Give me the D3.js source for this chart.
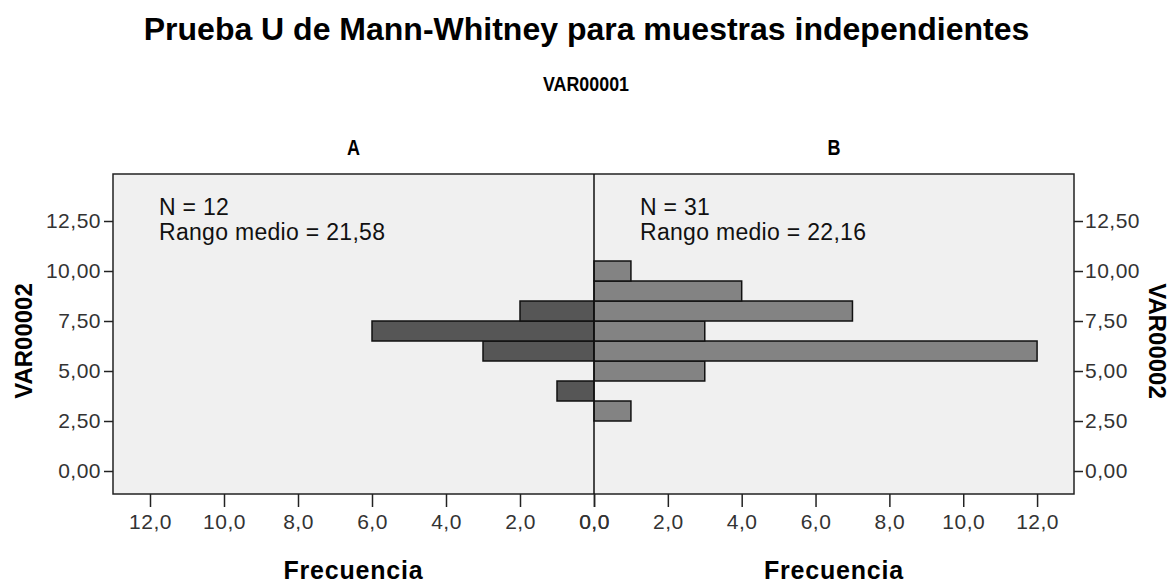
<!DOCTYPE html>
<html><head><meta charset="utf-8">
<script src="https://cdn.jsdelivr.net/npm/d3@7"></script>
<style>
html,body{margin:0;padding:0;background:#fff;}
text{font-family:"Liberation Sans",Arial,sans-serif;}
</style></head>
<body>
<svg id="chart" width="1172" height="586"></svg>
<script>
// ---- data ----
const groups = ["A", "B"];
const groupN = [12, 31];
const groupMeanRank = ["21,58", "22,16"];
const binCenters = [3, 4, 5, 6, 7, 8, 9, 10];
const countsA = [0, 1, 0, 3, 6, 2, 0, 0];
const countsB = [1, 0, 3, 12, 3, 7, 4, 1];
const yTicks = [0, 2.5, 5, 7.5, 10, 12.5];
const xTicks = [0, 2, 4, 6, 8, 10, 12];
const title = "Prueba U de Mann-Whitney para muestras independientes";
const subtitle = "VAR00001";
const yTitle = "VAR00002";
const xTitle = "Frecuencia";

// ---- layout ----
const svg = d3.select("#chart");
const L = 113, C = 594, R = 1074, T = 174, B = 494;
const binWidth = 1;

const y = d3.scaleLinear().domain([-1.15, 14.85]).range([B, T]);
const xA = d3.scaleLinear().domain([13, 0]).range([L, C]);
const xB = d3.scaleLinear().domain([0, 13]).range([C, R]);

const fmtY = v => d3.format(".2f")(v).replace(".", ",");
const fmtX = v => d3.format(".1f")(v).replace(".", ",");

// titles
svg.append("text").attr("x", 586.5).attr("y", 40).attr("text-anchor", "middle")
  .style("font-size", "32px").style("font-weight", "bold").attr("fill", "#000").text(title);
svg.append("text").attr("x", 586).attr("y", 91).attr("text-anchor", "middle")
  .style("font-size", "21px").style("font-weight", "bold").attr("fill", "#000")
  .attr("textLength", 86).attr("lengthAdjust", "spacingAndGlyphs").text(subtitle);

// plot background
svg.append("rect").attr("x", L).attr("y", T).attr("width", R - L).attr("height", B - T)
  .attr("fill", "#f0f0f0");

// bars
const dataA = binCenters.map((c, i) => ({c, n: countsA[i]})).filter(d => d.n > 0);
const dataB = binCenters.map((c, i) => ({c, n: countsB[i]})).filter(d => d.n > 0);

svg.append("g").selectAll("rect").data(dataA).join("rect")
  .attr("x", d => xA(d.n)).attr("width", d => xA(0) - xA(d.n))
  .attr("y", d => y(d.c + binWidth / 2)).attr("height", d => y(d.c - binWidth / 2) - y(d.c + binWidth / 2))
  .attr("fill", "#565656").attr("stroke", "#111").attr("stroke-width", 1.5);

svg.append("g").selectAll("rect").data(dataB).join("rect")
  .attr("x", d => xB(0)).attr("width", d => xB(d.n) - xB(0))
  .attr("y", d => y(d.c + binWidth / 2)).attr("height", d => y(d.c - binWidth / 2) - y(d.c + binWidth / 2))
  .attr("fill", "#838383").attr("stroke", "#111").attr("stroke-width", 1.5);

// frame
svg.append("rect").attr("x", L).attr("y", T).attr("width", R - L).attr("height", B - T)
  .attr("fill", "none").attr("stroke", "#222").attr("stroke-width", 1.5);
svg.append("line").attr("x1", C).attr("x2", C).attr("y1", T).attr("y2", B)
  .attr("stroke", "#111").attr("stroke-width", 1.5);

// axes
function styleAxis(g) {
  g.select(".domain").remove();
  g.selectAll(".tick line").attr("stroke", "#222").attr("stroke-width", 1.5);
  g.selectAll(".tick text").attr("fill", "#333").style("font-size", "21px")
    .style("font-family", "'Liberation Sans', Arial, sans-serif").style("letter-spacing", "0.5px");
}
svg.append("g").attr("transform", `translate(${L},0)`)
  .call(d3.axisLeft(y).tickValues(yTicks).tickFormat(fmtY).tickSize(9).tickPadding(3))
  .call(styleAxis);
svg.append("g").attr("transform", `translate(${R},0)`)
  .call(d3.axisRight(y).tickValues(yTicks).tickFormat(fmtY).tickSize(9).tickPadding(2))
  .call(styleAxis);
svg.append("g").attr("transform", `translate(0,${B})`)
  .call(d3.axisBottom(xA).tickValues(xTicks).tickFormat(fmtX).tickSize(13).tickPadding(7))
  .call(styleAxis);
svg.append("g").attr("transform", `translate(0,${B})`)
  .call(d3.axisBottom(xB).tickValues(xTicks).tickFormat(fmtX).tickSize(13).tickPadding(7))
  .call(styleAxis);

// group labels & annotations
const panels = [{x: xA, l: L, r: C}, {x: xB, l: C, r: R}];
panels.forEach((p, i) => {
  const cx = (p.l + p.r) / 2;
  svg.append("text").attr("x", cx).attr("y", 155).attr("text-anchor", "middle")
    .style("font-size", "22px").style("font-weight", "bold").attr("fill", "#000")
    .attr("textLength", 13).attr("lengthAdjust", "spacingAndGlyphs").text(groups[i]);
  const t = svg.append("text").attr("x", p.l + 46).attr("y", 215)
    .style("font-size", "23px").attr("fill", "#111").style("letter-spacing", "0.3px");
  t.append("tspan").attr("x", p.l + 46).attr("y", 215).text(`N = ${groupN[i]}`);
  t.append("tspan").attr("x", p.l + 46).attr("y", 240).text(`Rango medio = ${groupMeanRank[i]}`);
  svg.append("text").attr("x", cx).attr("y", 579).attr("text-anchor", "middle")
    .style("font-size", "25px").style("font-weight", "bold").attr("fill", "#000")
    .style("letter-spacing", "0.8px").text(xTitle);
});

// y titles
svg.append("text").attr("transform", "translate(32,341) rotate(-90)").attr("text-anchor", "middle")
  .style("font-size", "24px").style("font-weight", "bold").attr("fill", "#000").text(yTitle);
svg.append("text").attr("transform", "translate(1149,341) rotate(90)").attr("text-anchor", "middle")
  .style("font-size", "24px").style("font-weight", "bold").attr("fill", "#000").text(yTitle);
</script>
</body></html>
